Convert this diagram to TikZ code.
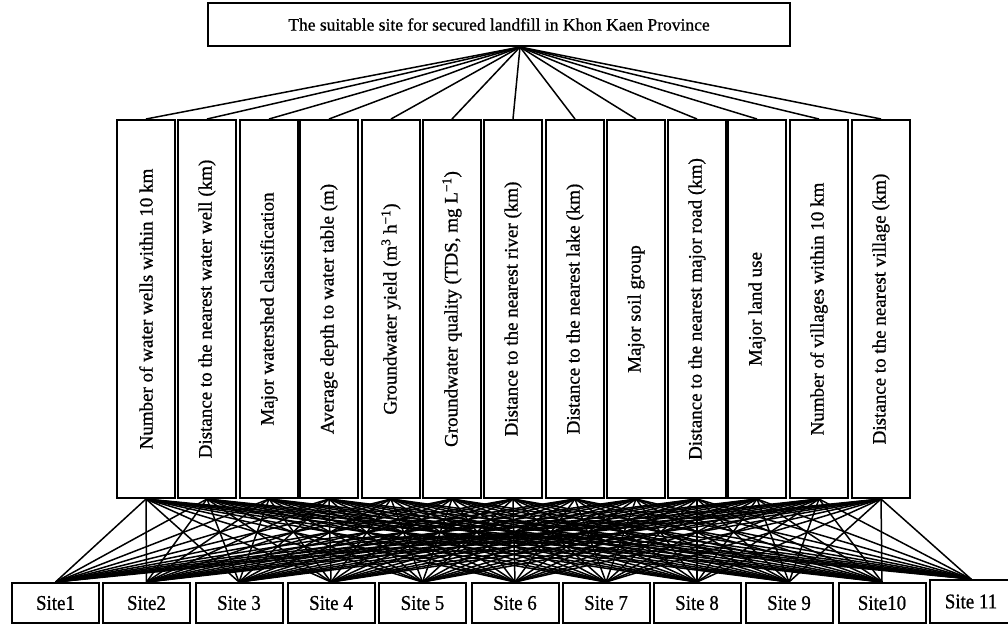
\documentclass[tikz,border=0pt]{standalone}
\usepackage{fontspec}
\setmainfont{Liberation Serif}[BoldFont={Liberation Serif},BoldFeatures={FakeBold=0.8}]
\usepackage{graphicx}
\begin{document}
\begin{tikzpicture}[x=1pt,y=-1pt,
  box/.style={draw, line width=2pt, inner sep=0pt, fill=white},
  crit/.style={box, minimum width=58pt, minimum height=378pt, font=\fontsize{19}{19}\selectfont\bfseries},
  sitebox/.style={box, minimum width=87pt, minimum height=40pt, font=\fontsize{21}{21}\selectfont\bfseries},
  link/.style={line width=1.5pt}]
\useasboundingbox (0,0) rectangle (1008,625);
\fill[white] (0,0) rectangle (1008,625);
\node[box, minimum width=582pt, minimum height=43pt, font=\fontsize{17.5}{17.5}\selectfont\bfseries] (top) at (499,24.5) {The suitable site for secured landfill in Khon Kaen Province};
\foreach \i/\x/\t in {
  1/146/{Number of water wells within 10 km},
  2/207/{Distance to the nearest water well (km)},
  3/269/{Major watershed classification},
  4/329/{Average depth to water table (m)},
  5/391/{Groundwater yield (m\textsuperscript{3} h\textsuperscript{\char"2212 1})},
  6/452/{Groundwater quality (TDS, mg L\textsuperscript{\char"2212 1})},
  7/513/{Distance to the nearest river (km)},
  8/575/{Distance to the nearest lake (km)},
  9/636/{Major soil group},
  10/697/{Distance to the nearest major road (km)},
  11/757/{Major land use},
  12/819/{Number of villages within 10 km},
  13/881/{Distance to the nearest village (km)}}
  \node[crit] (c\i) at (\x,309) {\rotatebox{90}{\t}};
\foreach \i/\x/\t in {
  1/55.5/{Site1}, 2/146.5/{Site2}, 3/239/{Site 3}, 4/331/{Site 4},
  5/422.5/{Site 5}, 6/515/{Site 6}, 7/606/{Site 7}, 8/697/{Site 8},
  9/789/{Site 9}, 10/882/{Site10}}
  \node[sitebox] (s\i) at (\x,603) {\scalebox{0.9}[1]{\t}};
\node[sitebox, minimum width=82pt, minimum height=43pt] (s11) at (971,601.5) {\scalebox{0.9}[1]{Site 11}};
\foreach \c in {1,...,13}{
  \draw[link] ([xshift=21pt]top.south) -- (c\c.north);
  \foreach \s in {1,...,11}
    \draw[link] (c\c.south) -- (s\s.north);
}
\end{tikzpicture}
\end{document}
